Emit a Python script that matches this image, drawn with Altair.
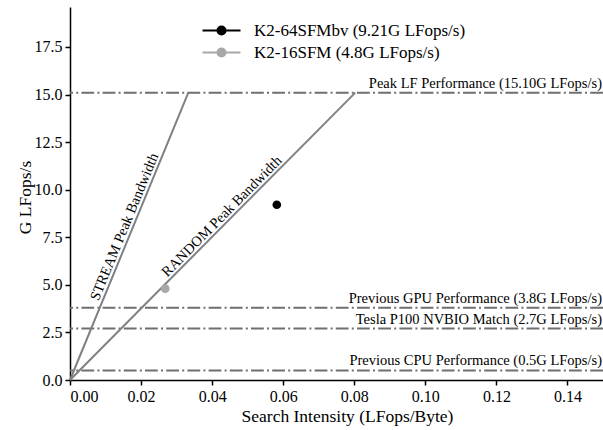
import altair as alt
import pandas as pd

FONT = "Liberation Serif"
x_max = 0.15
y_max = 19.6

peak_names = [
    "Peak LF Performance (15.10G LFops/s)",
    "Previous GPU Performance (3.8G LFops/s)",
    "Tesla P100 NVBIO Match (2.7G LFops/s)",
    "Previous CPU Performance (0.5G LFops/s)",
]
peak_values = [15.1, 3.8, 2.7, 0.5]

bw_names = ["STREAM Peak Bandwidth", "RANDOM Peak Bandwidth"]
bw_x_end = [0.0333, 0.0803]
bw_y_end = [15.1, 15.1]
bw_label_x = [0.0175, 0.0444]
bw_label_y = [7.88, 8.29]
bw_label_angle = [292.4, 314.8]

sys_names = ["K2-64SFMbv (9.21G LFops/s)", "K2-16SFM (4.8G LFops/s)"]
sys_x = [0.0582, 0.0268]
sys_y = [9.21, 4.8]
sys_colors = ["#000000", "#a8a8a8"]

x_ticks = [0, 0.02, 0.04, 0.06, 0.08, 0.1, 0.12, 0.14]
y_ticks = [0, 2.5, 5, 7.5, 10, 12.5, 15, 17.5]

peaks_df = pd.DataFrame({"name": peak_names, "y": peak_values, "x": [x_max] * len(peak_values)})
line_rows = []
for n, xe, ye in zip(bw_names, bw_x_end, bw_y_end):
    line_rows.append({"name": n, "x": 0.0, "y": 0.0})
    line_rows.append({"name": n, "x": xe, "y": ye})
lines_df = pd.DataFrame(line_rows)
bw_lab_df = pd.DataFrame({"name": bw_names, "x": bw_label_x, "y": bw_label_y, "angle": bw_label_angle})
sys_df = pd.DataFrame({"name": sys_names, "x": sys_x, "y": sys_y})

xscale = alt.Scale(domain=[0, x_max], nice=False, zero=True)
yscale = alt.Scale(domain=[0, y_max], nice=False, zero=True)

xaxis = alt.Axis(title="Search Intensity (LFops/Byte)", values=x_ticks, format=".2f", grid=False, titleX=277)
yaxis = alt.Axis(title="G LFops/s", values=y_ticks, format=".1f", grid=False, titleY=190)
X = alt.X("x:Q", scale=xscale, axis=xaxis)
Y = alt.Y("y:Q", scale=yscale, axis=yaxis)

rules = alt.Chart(peaks_df).mark_rule(color="#6f6f6f", strokeWidth=2, strokeDash=[12.8, 3.2, 2, 3.2]).encode(y=Y)
peak_text = alt.Chart(peaks_df).mark_text(align="right", baseline="bottom", dx=-1, dy=-2, fontSize=14.5, font=FONT, color="black").encode(
    x=X, y=Y, text="name:N"
)
bw_lines = alt.Chart(lines_df).mark_line(color="#808080", strokeWidth=2).encode(x=X, y=Y, detail="name:N")
bw_text = alt.Chart(bw_lab_df).mark_text(align="center", baseline="bottom", dy=-1, fontSize=14.5, font=FONT, color="black").encode(
    x=X, y=Y, text="name:N", angle=alt.Angle("angle:Q", scale=None)
)

sym = "M-4.75,0L4.75,0M-1,0A1,1,0,1,1,1,0A1,1,0,1,1,-1,0"
leg = alt.Legend(title=None, orient="none", legendX=143, legendY=15, symbolType=sym, symbolSize=64,
                 symbolStrokeWidth=2, labelOffset=24, labelFontSize=17, labelFont=FONT, labelLimit=0,
                 rowPadding=4, padding=0, labelColor="black")
cscale = alt.Scale(domain=sys_names, range=sys_colors)
pts = alt.Chart(sys_df).mark_point(filled=True, size=75, opacity=1, strokeWidth=0).encode(
    x=X, y=Y,
    fill=alt.Fill("name:N", scale=cscale, legend=leg, sort=sys_names),
    stroke=alt.Stroke("name:N", scale=cscale, legend=leg, sort=sys_names),
)

chart = alt.layer(rules, bw_lines, peak_text, bw_text, pts).properties(
    width=533, height=373, autosize=alt.AutoSizeParams(type="none"),
    padding={"left": 70, "top": 7, "right": 0, "bottom": 50},
).configure(font=FONT).configure_view(stroke=None).configure_axis(
    labelFont=FONT, titleFont=FONT, labelFontSize=16, titleFontSize=17.5, labelColor="black", titleColor="black",
    titleFontWeight="normal", domainColor="black", domainWidth=1.5, tickColor="black", tickWidth=1.5, tickSize=5,
    labelPadding=3,
).configure_axisY(titlePadding=0).configure_axisX(titlePadding=3)

chart.save("out.html", embed_options={"renderer": "svg", "actions": False})
